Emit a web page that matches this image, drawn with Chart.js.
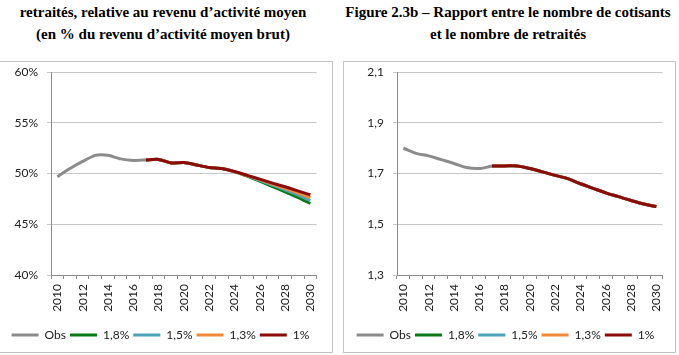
<!DOCTYPE html>
<html>
<head>
<meta charset="utf-8">
<script src="https://cdn.jsdelivr.net/npm/chart.js@4/dist/chart.umd.min.js"></script>
<style>
  html, body { margin: 0; padding: 0; background: #fff; width: 679px; height: 355px; overflow: hidden; }
  .panel { position: absolute; border: 1px solid #c4c4c4; box-sizing: border-box; }
  .title { position: absolute; font-family: "Liberation Serif", "Times New Roman", serif; font-weight: bold; font-size: 15px; text-align: center; color: #000; line-height: 22px; white-space: nowrap; }
  canvas { position: absolute; }
</style>
</head>
<body>
<div class="title" style="left:0; width:326px; top:1px;">retraités, relative au revenu d’activité moyen<br>(en % du revenu d’activité moyen brut)</div>
<div class="title" style="left:343px; width:330px; top:1px;">Figure 2.3b – Rapport entre le nombre de cotisants<br>et le nombre de retraités</div>
<div class="panel" style="left:-2px; top:61px; width:335px; height:292px;"></div>
<div class="panel" style="left:343px; top:61px; width:333px; height:292px;"></div>
<canvas id="c1" width="330" height="295" style="left:0; top:56px;"></canvas>
<canvas id="c2" width="330" height="295" style="left:346px; top:56px;"></canvas>
<script>
const years = ["2010","2011","2012","2013","2014","2015","2016","2017","2018","2019","2020","2021","2022","2023","2024","2025","2026","2027","2028","2029","2030"];
const seriesNames = ["Obs", "1,8%", "1,5%", "1,3%", "1%"];
const seriesColors = ["#8c8c8c", "#0a7a14", "#4ba3b8", "#f0893a", "#8b0a0a"];

// Left chart: pension relative to average earnings (%)
const leftObs  = [49.7, 50.5, 51.2, 51.8, 51.8, 51.45, 51.3, 51.35, null, null, null, null, null, null, null, null, null, null, null, null, null];
const left18   = [null, null, null, null, null, null, null, 51.35, 51.4, 51.05, 51.1, 50.85, 50.6, 50.5, 50.2, 49.75, 49.25, 48.72, 48.2, 47.65, 47.05];
const left15   = [null, null, null, null, null, null, null, 51.35, 51.4, 51.05, 51.1, 50.85, 50.6, 50.5, 50.2, 49.78, 49.33, 48.87, 48.4, 47.9, 47.35];
const left13   = [null, null, null, null, null, null, null, 51.35, 51.4, 51.05, 51.1, 50.85, 50.6, 50.5, 50.2, 49.8, 49.4, 48.96, 48.55, 48.1, 47.62];
const left10   = [null, null, null, null, null, null, null, 51.35, 51.4, 51.05, 51.1, 50.85, 50.6, 50.5, 50.2, 49.83, 49.45, 49.06, 48.7, 48.3, 47.9];
const leftTicks = [40, 45, 50, 55, 60];

// Right chart: contributors / retirees ratio
const rightObs = [1.80, 1.78, 1.77, 1.755, 1.74, 1.724, 1.72, 1.73, null, null, null, null, null, null, null, null, null, null, null, null, null];
const right18  = [null, null, null, null, null, null, null, 1.73, 1.73, 1.73, 1.72, 1.707, 1.693, 1.68, 1.66, 1.642, 1.624, 1.609, 1.594, 1.58, 1.57];
const right15  = [null, null, null, null, null, null, null, 1.73, 1.73, 1.73, 1.72, 1.707, 1.693, 1.68, 1.66, 1.642, 1.624, 1.609, 1.594, 1.58, 1.57];
const right13  = [null, null, null, null, null, null, null, 1.73, 1.73, 1.73, 1.72, 1.707, 1.693, 1.68, 1.66, 1.642, 1.624, 1.609, 1.594, 1.58, 1.57];
const right10  = [null, null, null, null, null, null, null, 1.73, 1.73, 1.73, 1.72, 1.707, 1.693, 1.68, 1.66, 1.642, 1.624, 1.609, 1.594, 1.58, 1.57];
const rightTicks = [1.3, 1.5, 1.7, 1.9, 2.1];

const FONT = "Lato, 'Liberation Sans', sans-serif";

function makeDatasets(arrs, tension) {
  return arrs.map((d, i) => ({
    label: seriesNames[i],
    data: d,
    borderColor: seriesColors[i],
    backgroundColor: seriesColors[i],
    borderWidth: 3,
    pointRadius: 0,
    tension: tension,
    spanGaps: false,
    order: arrs.length - 1 - i,
  }));
}

function makeChart(id, arrs, ticks, fmt, tension, rightPad) {
  return new Chart(document.getElementById(id), {
    type: 'line',
    data: { labels: years, datasets: makeDatasets(arrs, tension) },
    options: {
      responsive: false,
      devicePixelRatio: 1,
      animation: false,
      layout: { padding: { left: 0, right: rightPad, top: 4, bottom: 0 } },
      plugins: {
        tooltip: { enabled: false },
        legend: {
          position: 'bottom',
          labels: {
            font: { family: FONT, size: 12 },
            color: '#222',
            usePointStyle: true,
            pointStyle: 'line',
            pointStyleWidth: 27,
            boxHeight: 12,
            padding: 4,
            sort: (a, b) => a.datasetIndex - b.datasetIndex,
          }
        }
      },
      scales: {
        x: {
          offset: true,
          grid: { display: true, drawOnChartArea: false, drawTicks: true, tickLength: 4, offset: true, color: '#8c8c8c' },
          border: { color: '#8c8c8c' },
          ticks: {
            autoSkip: false, maxRotation: 90, minRotation: 90, padding: 5,
            font: { family: FONT, size: 12 }, color: '#222',
            callback: function(v, i) { return i % 2 === 0 ? years[i] : ''; }
          },
          afterFit: s => { s.height = 50; }
        },
        y: {
          min: ticks[0], max: ticks[ticks.length - 1],
          afterBuildTicks: s => { s.ticks = ticks.map(v => ({ value: v })); },
          grid: { color: '#c8c8c8', tickLength: 4 },
          border: { color: '#8c8c8c' },
          ticks: { font: { family: FONT, size: 12 }, color: '#222', padding: 9, callback: fmt },
          afterFit: s => { s.width = 51; }
        }
      }
    }
  });
}

makeChart('c1', [leftObs, left18, left15, left13, left10], leftTicks, v => v + '%', 0.2, 9);
makeChart('c2', [rightObs, right18, right15, right13, right10], rightTicks, v => v.toFixed(1).replace('.', ','), 0.4, 11);
</script>
</body>
</html>
